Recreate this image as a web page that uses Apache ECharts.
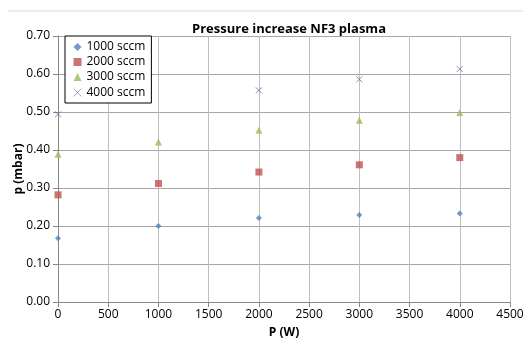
<!DOCTYPE html>
<html>
<head>
<meta charset="utf-8">
<script src="https://cdn.jsdelivr.net/npm/echarts@6/dist/echarts.min.js"></script>
<style>
  html, body { margin: 0; padding: 0; background: #fff; }
  #chart { width: 523px; height: 343px; }
</style>
</head>
<body>
<div id="chart"></div>
<script>
var seriesNames = ['1000 sccm', '2000 sccm', '3000 sccm', '4000 sccm'];
var powers = [0, 1000, 2000, 3000, 4000];
var flow1000 = [0.168, 0.200, 0.221, 0.229, 0.233];
var flow2000 = [0.282, 0.312, 0.342, 0.361, 0.380];
var flow3000 = [0.389, 0.421, 0.452, 0.478, 0.499];
var flow4000 = [0.494, null, 0.557, 0.586, 0.613];

var colors = ['#4F81BD', '#C0504D', '#9BBB59', '#8064A2'];
var symbols = ['diamond', 'rect', 'triangle', 'path://M0,0L10,10M10,0L0,10'];
var sizes = [6, 7, 7, 6];
var allData = [flow1000, flow2000, flow3000, flow4000];

function pairs(vals) {
  var out = [];
  vals.forEach(function (v, i) {
    if (v !== null) out.push([powers[i], v]);
  });
  return out;
}

var series = seriesNames.map(function (name, i) {
  var cross = i === 3;
  return {
    name: name,
    type: 'scatter',
    symbol: symbols[i],
    symbolSize: sizes[i],
    data: pairs(allData[i]),
    itemStyle: cross
      ? { color: 'none', borderColor: colors[i], borderWidth: 1 }
      : { color: colors[i] }
  };
});

var font = 'Open Sans, Liberation Sans, sans-serif';
var chart = echarts.init(document.getElementById('chart'));
chart.setOption({
  animation: false,
  textStyle: { fontFamily: font },
  title: {
    text: 'Pressure increase NF3 plasma',
    left: 284, top: 18, textAlign: 'center',
    textStyle: { fontSize: 13, fontWeight: 'bold', color: '#000', fontFamily: font }
  },
  graphic: [{
    type: 'line', shape: { x1: 8, y1: 11, x2: 523, y2: 11 },
    style: { stroke: '#d9d9d9', lineWidth: 1 }
  }],
  legend: {
    orient: 'vertical', left: 65, top: 36,
    backgroundColor: '#fff', borderColor: '#000', borderWidth: 1,
    padding: [5, 6, 4, 6], itemGap: 3, itemWidth: 8, itemHeight: 8,
    textStyle: { fontSize: 12, color: '#000', fontFamily: font },
    data: seriesNames.map(function (n, i) {
      return i === 3 ? { name: n, itemStyle: { borderWidth: 0.8 } } : n;
    })
  },
  grid: { left: 58, right: 13, top: 36, bottom: 41, outerBoundsMode: 'none' },
  xAxis: {
    type: 'value', min: 0, max: 4500, interval: 500,
    name: 'P (W)', nameLocation: 'middle', nameGap: 25,
    nameTextStyle: { fontSize: 12, fontWeight: 'bold', color: '#000' },
    axisLine: { lineStyle: { color: '#888' } },
    axisTick: { show: true, length: 5, lineStyle: { color: '#888' } },
    axisLabel: { fontSize: 12, color: '#000', margin: 7,
      formatter: function (v) { return String(v); } },
    splitLine: { show: true, lineStyle: { color: '#bfbfbf' } }
  },
  yAxis: {
    type: 'value', min: 0, max: 0.7, interval: 0.1,
    name: 'p (mbar)', nameLocation: 'middle', nameGap: 33,
    nameMoveOverlap: false,
    nameTextStyle: { fontSize: 12, fontWeight: 'bold', color: '#000' },
    axisLine: { show: true, lineStyle: { color: '#888' } },
    axisTick: { show: true, length: 5, lineStyle: { color: '#888' } },
    axisLabel: { fontSize: 12, color: '#000', margin: 8,
      formatter: function (v) { return v.toFixed(2); } },
    splitLine: { show: true, lineStyle: { color: '#a6a6a6' } }
  },
  series: series
});
</script>
</body>
</html>
